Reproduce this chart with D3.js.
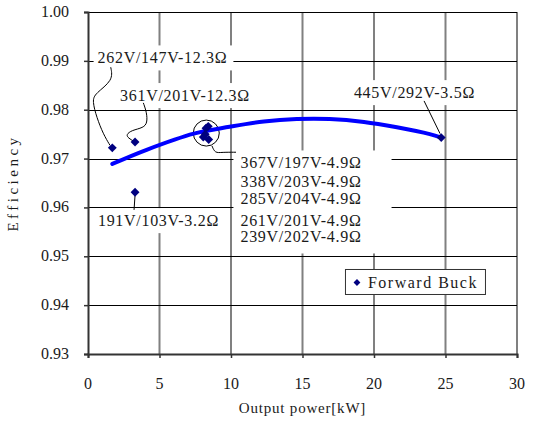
<!DOCTYPE html>
<html>
<head>
<meta charset="utf-8">
<script src="https://cdn.jsdelivr.net/npm/d3@7"></script>
<style>
  body { margin: 0; background: #fff; }
  text { font-family: "Liberation Serif", "DejaVu Serif", serif; fill: #1a1a1a; }
</style>
</head>
<body>
<div id="chart"></div>
<script>
// values
var xTicks = [0, 5, 10, 15, 20, 25, 30];
var yTicks = [0.93, 0.94, 0.95, 0.96, 0.97, 0.98, 0.99, 1.00];

// measured points (Forward Buck)
var pointNames = ["262V/147V-12.3Ω", "361V/201V-12.3Ω", "191V/103V-3.2Ω",
  "367V/197V-4.9Ω", "338V/203V-4.9Ω", "285V/204V-4.9Ω", "261V/201V-4.9Ω", "239V/202V-4.9Ω",
  "445V/292V-3.5Ω"];
var pointX = [1.70, 3.29, 3.29, 8.41, 8.25, 8.20, 8.06, 8.44, 24.70];
var pointY = [0.9722, 0.9734, 0.9631, 0.9766, 0.9762, 0.9750, 0.9744, 0.9739, 0.9743];

// trend curve
var fitX = [1.7, 4.1, 7.4, 9.9, 12.3, 14.6, 16.9, 19.3, 21.6, 23.9, 24.7];
var fitY = [0.9689, 0.9718, 0.9751, 0.9765, 0.9776, 0.9781, 0.9781, 0.9775, 0.9764, 0.9750, 0.9743];

var seriesName = "Forward Buck";

//set up svg
var svgWidth = 534;
var svgHeight = 421;

var margin = { top: 12, right: 17, bottom: 67, left: 88 };
var width = svgWidth - margin.left - margin.right;
var height = svgHeight - margin.top - margin.bottom;

var svg = d3.select("#chart")
  .append("svg")
  .attr("width", svgWidth)
  .attr("height", svgHeight)
  .style("display", "block");

svg.append("rect").attr("width", svgWidth).attr("height", svgHeight).attr("fill", "#fff");

var chartGroup = svg.append("g")
  .attr("transform", `translate(${margin.left}, ${margin.top})`);

var xScale = d3.scaleLinear().domain([0, 30]).range([0, width]);
var yScale = d3.scaleLinear().domain([0.93, 1.00]).range([height, 0]);

// gridlines: vertical grey, horizontal black
chartGroup.append("g").selectAll("line")
  .data(xTicks.slice(1))
  .enter()
  .append("line")
  .attr("x1", d => xScale(d))
  .attr("x2", d => xScale(d))
  .attr("y1", 0)
  .attr("y2", height)
  .attr("stroke", "#808080")
  .attr("stroke-width", 2);

chartGroup.append("g").selectAll("line")
  .data(yTicks.slice(1))
  .enter()
  .append("line")
  .attr("x1", 0)
  .attr("x2", width)
  .attr("y1", d => Math.round(yScale(d)) + 0.5)
  .attr("y2", d => Math.round(yScale(d)) + 0.5)
  .attr("stroke", "#000")
  .attr("stroke-width", 1);

// axes
var xAxis = d3.axisBottom(xScale).tickValues(xTicks).tickSize(4).tickFormat("");
var yAxis = d3.axisLeft(yScale).tickValues(yTicks).tickSize(4).tickFormat("");

chartGroup.append("g")
  .attr("class", "xAxis")
  .attr("transform", `translate(0, ${height})`)
  .call(xAxis);

chartGroup.append("g")
  .attr("class", "yAxis")
  .call(yAxis);

chartGroup.selectAll(".domain").attr("stroke", "#333").attr("stroke-width", 2);
chartGroup.selectAll(".tick line").attr("stroke", "#333").attr("stroke-width", 1.5);

// tick labels
chartGroup.append("g").selectAll("text")
  .data(xTicks)
  .enter()
  .append("text")
  .attr("x", d => xScale(d))
  .attr("y", height + 35)
  .attr("text-anchor", "middle")
  .attr("font-size", 16)
  .text(d => d);

chartGroup.append("g").selectAll("text")
  .data(yTicks)
  .enter()
  .append("text")
  .attr("x", -19)
  .attr("y", d => yScale(d) + 5)
  .attr("text-anchor", "end")
  .attr("font-size", 16)
  .text(d => d3.format(".2f")(d));

// axis titles
chartGroup.append("text")
  .attr("x", width / 2)
  .attr("y", height + 59)
  .attr("text-anchor", "middle")
  .attr("font-size", 15)
  .attr("letter-spacing", 0.8)
  .text("Output power[kW]");

chartGroup.append("text")
  .attr("transform", `translate(-70, ${height / 2}) rotate(-90)`)
  .attr("text-anchor", "middle")
  .attr("font-size", 15)
  .attr("letter-spacing", 3.5)
  .text("Efficiency");

// data labels (layout kept apart from the values)
var labelLayout = [
  { idx: [0], x: 5.21, y: 0.9906, pad: [4, 6, 4, 4] },
  { idx: [1], x: 6.78, y: 0.9829, pad: [4, 4, 4, 4] },
  { idx: [2], x: 4.93, y: 0.9573, pad: [4, 4, 4, 4] },
  { idx: [8], x: 22.83, y: 0.9835, pad: [4, 4, 4, 4] },
  { idx: [3, 4, 5, 6, 7], x: 10.66, y: 0.9691, anchor: "start", lines: [0, 18.4, 36, 57.4, 74], pad: [7, 30, 8, 4] }
];

var labelGroup = chartGroup.append("g");

labelLayout.forEach(function(lab) {
  var g = labelGroup.append("g");
  var box = g.append("rect").attr("fill", "#fff");
  var anchor = lab.anchor || "middle";
  lab.idx.forEach(function(i, k) {
    g.append("text")
      .attr("x", xScale(lab.x))
      .attr("y", yScale(lab.y) + 5.5 + (lab.lines ? lab.lines[k] : 0))
      .attr("text-anchor", anchor)
      .attr("font-size", 16)
      .attr("letter-spacing", 0.7)
      .text(pointNames[i]);
  });
  var bb = g.node().getBBox();
  box.attr("x", bb.x - lab.pad[0])
    .attr("y", bb.y - lab.pad[3])
    .attr("width", bb.width + lab.pad[0] + lab.pad[1])
    .attr("height", bb.height + lab.pad[3] + lab.pad[2]);
});

// leader lines, waypoints in data units
var leaders = [
  [[1.59, 0.9887], [1.77, 0.9860], [0.49, 0.9833], [0.30, 0.9818], [0.61, 0.9784], [1.07, 0.9750], [1.54, 0.9727]],
  [[3.87, 0.9814], [4.11, 0.9794], [4.15, 0.9773], [3.87, 0.9763], [3.06, 0.9758], [2.66, 0.9749], [2.82, 0.9742], [3.22, 0.9735]],
  [[3.29, 0.9625], [3.22, 0.9595]],
  [[8.67, 0.9726], [8.88, 0.9711], [9.37, 0.9713], [10.35, 0.9713]],
  [[23.50, 0.9818], [24.62, 0.9751]]
];

var leaderLine = d3.line()
  .x(d => xScale(d[0]))
  .y(d => yScale(d[1]))
  .curve(d3.curveBasis);

chartGroup.append("g").selectAll("path")
  .data(leaders)
  .enter()
  .append("path")
  .attr("d", leaderLine)
  .attr("fill", "none")
  .attr("stroke", "#000")
  .attr("stroke-width", 1);

// circle around the 4.9 ohm cluster
chartGroup.append("circle")
  .attr("cx", xScale(d3.mean(pointX.slice(3, 8))))
  .attr("cy", yScale(d3.mean(pointY.slice(3, 8))))
  .attr("r", 13)
  .attr("fill", "none")
  .attr("stroke", "#000")
  .attr("stroke-width", 1);

// trend curve
var fitData = fitX.map((x, i) => [x, fitY[i]]);
var fitLine = d3.line()
  .x(d => xScale(d[0]))
  .y(d => yScale(d[1]))
  .curve(d3.curveCatmullRom);

chartGroup.append("path")
  .datum(fitData)
  .attr("d", fitLine)
  .attr("fill", "none")
  .attr("stroke", "#0000ff")
  .attr("stroke-width", 4)
  .attr("stroke-linecap", "round");

// measured points
var diamond = d3.symbol().type(d3.symbolDiamond2).size(50);

chartGroup.append("g").selectAll("path")
  .data(pointX.map((x, i) => [x, pointY[i]]))
  .enter()
  .append("path")
  .attr("d", diamond)
  .attr("transform", d => `translate(${xScale(d[0])}, ${yScale(d[1])})`)
  .attr("fill", "#000080");

// legend
var legend = chartGroup.append("g")
  .attr("transform", `translate(${xScale(17.97)}, ${yScale(0.9474)})`);

legend.append("rect")
  .attr("x", 0.5)
  .attr("y", 0.5)
  .attr("width", 140)
  .attr("height", 25)
  .attr("fill", "#fff")
  .attr("stroke", "#333")
  .attr("stroke-width", 1);

legend.append("path")
  .attr("d", d3.symbol().type(d3.symbolDiamond2).size(30))
  .attr("transform", "translate(12, 13.5)")
  .attr("fill", "#000080");

legend.append("text")
  .attr("x", 23)
  .attr("y", 19)
  .attr("font-size", 16)
  .attr("letter-spacing", 1.5)
  .text(seriesName);
</script>
</body>
</html>
